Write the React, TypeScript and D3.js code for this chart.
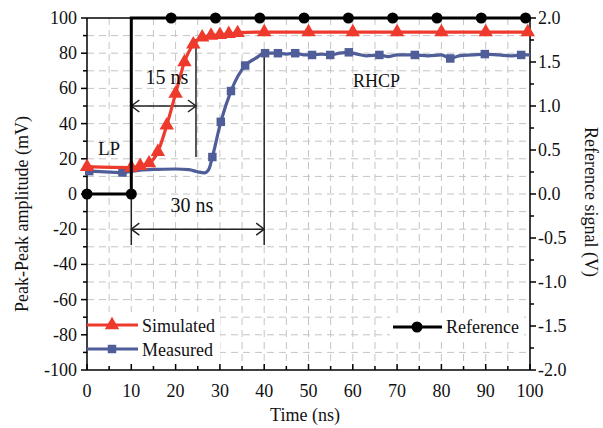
import React from "react";
import * as d3 from "d3";

// ---- data ----
const simT = [0, 10, 12, 14, 16, 18, 20, 22, 24, 26, 28, 30, 32, 34, 40, 50, 60, 70, 80, 90, 99.5];
const simV = [15.5, 15, 16, 17.5, 24, 39, 57, 75, 85, 89, 90, 90.5, 91, 91.5, 92, 92, 92, 92, 92, 92, 92];

const measT = [0, 4, 8, 12, 16, 20, 23, 25, 26.5, 27.5, 28.3, 30.2, 32.5, 35.7, 38, 40.2, 43.1, 45, 47, 49, 50.8, 53, 54.9, 57, 59.1, 61, 63, 66, 68, 70, 74, 77, 80, 82, 84, 87, 89.8, 93, 96, 98, 100];
const measV = [13, 12.6, 12.2, 13.6, 14, 14.2, 13.8, 12.6, 12, 14, 21, 41, 58.5, 73, 77, 80, 80, 79.5, 80, 79, 79, 79.5, 79, 80, 80.5, 79.5, 78.5, 79, 78, 79, 79, 78.5, 79, 77, 78.5, 79, 79.5, 79, 78.5, 79, 79];
const measMarkT = [0.5, 8, 28.3, 30.2, 32.5, 35.7, 40.2, 43.1, 47, 50.8, 54.9, 59.1, 66, 74, 82, 89.8, 98];
const measMarkV = [13, 12.2, 21, 41, 58.5, 73, 80, 80, 80, 79, 79, 80.5, 79, 79, 77, 79.5, 79];

const refLineT = [0, 10, 10, 100];
const refLineV = [0, 0, 2, 2];
const refMarkT = [0, 10, 19, 29, 39, 49, 59, 69, 79, 89, 99];
const refMarkV = [0, 0, 2, 2, 2, 2, 2, 2, 2, 2, 2];

const xTicks = [0, 10, 20, 30, 40, 50, 60, 70, 80, 90, 100];
const yLeftTicks = [-100, -80, -60, -40, -20, 0, 20, 40, 60, 80, 100];
const yRightTicks = [-2, -1.5, -1, -0.5, 0, 0.5, 1, 1.5, 2];

const RED = "#ee3a2c";
const BLUE = "#4f5d99";
const FONT = "'Liberation Serif', 'Times New Roman', serif";

export default function App() {
  const W = 603, H = 428;
  const L = 87, R = 530, T = 18, B = 370;
  const x = d3.scaleLinear().domain([0, 100]).range([L, R]);
  const y = d3.scaleLinear().domain([-100, 100]).range([B, T]);
  const y2 = d3.scaleLinear().domain([-2, 2]).range([B, T]);

  const curve = d3.curveMonotoneX;
  const simLine = d3.line<number>().x((_, i) => x(simT[i])).y((_, i) => y(simV[i])).curve(curve)(simT)!;
  const measLine = d3.line<number>().x((_, i) => x(measT[i])).y((_, i) => y(measV[i])).curve(curve)(measT)!;
  const refLine = d3.line<number>().x((_, i) => x(refLineT[i])).y((_, i) => y2(refLineV[i]))(refLineT)!;

  const gridX = d3.range(5, 100, 5);
  const gridY = d3.range(-90, 100, 10);
  const minorX = d3.range(5, 100, 10);
  const minorYL = d3.range(-90, 100, 20);
  const minorYR = d3.range(-1.75, 2, 0.5);

  const tri = d3.symbol().type(d3.symbolTriangle).size(90)()!;
  const sq = d3.symbol().type(d3.symbolSquare).size(72)()!;

  const arrow = (x1: number, x2: number, yy: number) => {
    const h = 8, w = 6;
    return (
      <g stroke="#222" strokeWidth={1.5} fill="none">
        <line x1={x1} x2={x2} y1={yy} y2={yy} />
        <polyline points={`${x1 + h},${yy - w} ${x1},${yy} ${x1 + h},${yy + w}`} />
        <polyline points={`${x2 - h},${yy - w} ${x2},${yy} ${x2 - h},${yy + w}`} />
      </g>
    );
  };

  return (
    <svg width={W} height={H} style={{ position: "absolute", left: 0, top: 0, background: "#fff" }} fontFamily={FONT}>
      {/* grid */}
      <g stroke="#c4c4c4" strokeWidth={1} strokeDasharray="7,5">
        {gridX.map((g) => <line key={"gx" + g} x1={x(g)} x2={x(g)} y1={T} y2={B} />)}
        {gridY.map((g) => <line key={"gy" + g} x1={L} x2={R} y1={y(g)} y2={y(g)} />)}
      </g>

      {/* legend backgrounds */}
      <rect x={L + 1} y={312} width={132} height={50} fill="#fff" />
      <rect x={390} y={316} width={134} height={22} fill="#fff" />

      {/* frame */}
      <g stroke="#000" strokeWidth={1.5} fill="none">
        <line x1={L} x2={R} y1={T} y2={T} />
        <line x1={L} x2={R} y1={B} y2={B} />
        <line x1={L} x2={L} y1={T} y2={B} />
        <line x1={R} x2={R} y1={T} y2={B} />
        {xTicks.map((t) => <line key={"xt" + t} x1={x(t)} x2={x(t)} y1={B} y2={B - 6} />)}
        {minorX.map((t) => <line key={"xm" + t} x1={x(t)} x2={x(t)} y1={B} y2={B - 4} />)}
        {yLeftTicks.map((t) => <line key={"yl" + t} x1={L} x2={L - 6} y1={y(t)} y2={y(t)} />)}
        {minorYL.map((t) => <line key={"ylm" + t} x1={L} x2={L - 4} y1={y(t)} y2={y(t)} />)}
        {yRightTicks.map((t) => <line key={"yr" + t} x1={R} x2={R + 6} y1={y2(t)} y2={y2(t)} />)}
        {minorYR.map((t) => <line key={"yrm" + t} x1={R} x2={R + 4} y1={y2(t)} y2={y2(t)} />)}
      </g>

      {/* annotations */}
      <g stroke="#222" strokeWidth={1.5}>
        <line x1={x(10)} x2={x(10)} y1={y(0)} y2={y(-29)} />
        <line x1={x(40)} x2={x(40)} y1={y(80)} y2={y(-29)} />
        <line x1={x(24.6)} x2={x(24.6)} y1={y(88)} y2={y(21)} />
      </g>
      {arrow(x(10), x(24.6), y(50))}
      {arrow(x(10), x(40), y(-20))}

      {/* series */}
      <path d={measLine} fill="none" stroke={BLUE} strokeWidth={3.2} />
      {measMarkT.map((t, i) => <path key={"mm" + i} d={sq} transform={`translate(${x(t)},${y(measMarkV[i])})`} fill={BLUE} />)}
      <path d={simLine} fill="none" stroke={RED} strokeWidth={3.2} />
      {simT.map((t, i) => <path key={"sm" + i} d={tri} transform={`translate(${x(t)},${y(simV[i])})`} fill={RED} />)}
      <path d={refLine} fill="none" stroke="#000" strokeWidth={3} />
      {refMarkT.map((t, i) => <circle key={"rm" + i} cx={x(t)} cy={y2(refMarkV[i])} r={5.5} fill="#000" />)}

      {/* tick labels */}
      <g fontSize={18} fill="#111">
        {xTicks.map((t) => <text key={"xl" + t} x={x(t)} y={397} textAnchor="middle">{t}</text>)}
        {yLeftTicks.map((t) => <text key={"yll" + t} x={L - 10} y={y(t)} textAnchor="end" dominantBaseline="central">{t}</text>)}
        {yRightTicks.map((t) => <text key={"yrl" + t} x={R + 8} y={y2(t)} textAnchor="start" dominantBaseline="central">{t.toFixed(1)}</text>)}
      </g>

      {/* axis titles */}
      <g fontSize={18} fill="#111">
        <text x={305} y={421} textAnchor="middle">Time (ns)</text>
        <text transform={`translate(22,${(T + B) / 2 + 20}) rotate(-90)`} textAnchor="middle" dominantBaseline="central">Peak-Peak amplitude (mV)</text>
        <text transform={`translate(591,${(T + B) / 2 + 8}) rotate(90)`} textAnchor="middle" dominantBaseline="central">Reference signal (V)</text>
      </g>

      {/* in-plot labels */}
      <g fill="#111">
        <text x={167} y={84} fontSize={20} textAnchor="middle">15 ns</text>
        <text x={192} y={212} fontSize={20} textAnchor="middle">30 ns</text>
        <text x={109} y={155} fontSize={19} textAnchor="middle">LP</text>
        <text x={353} y={87} fontSize={18}>RHCP</text>
      </g>

      {/* legend */}
      <g>
        <line x1={87} x2={138} y1={325} y2={325} stroke={RED} strokeWidth={3} />
        <path d={tri} transform={`translate(112,325)`} fill={RED} />
        <text x={142} y={332} fontSize={18} fill="#111">Simulated</text>
        <line x1={87} x2={138} y1={349} y2={349} stroke={BLUE} strokeWidth={3} />
        <path d={sq} transform={`translate(112,349)`} fill={BLUE} />
        <text x={142} y={356} fontSize={18} fill="#111">Measured</text>
        <line x1={393} x2={442} y1={327} y2={327} stroke="#000" strokeWidth={3} />
        <circle cx={417} cy={327} r={5.5} fill="#000" />
        <text x={446} y={333} fontSize={18} fill="#111">Reference</text>
      </g>
    </svg>
  );
}
